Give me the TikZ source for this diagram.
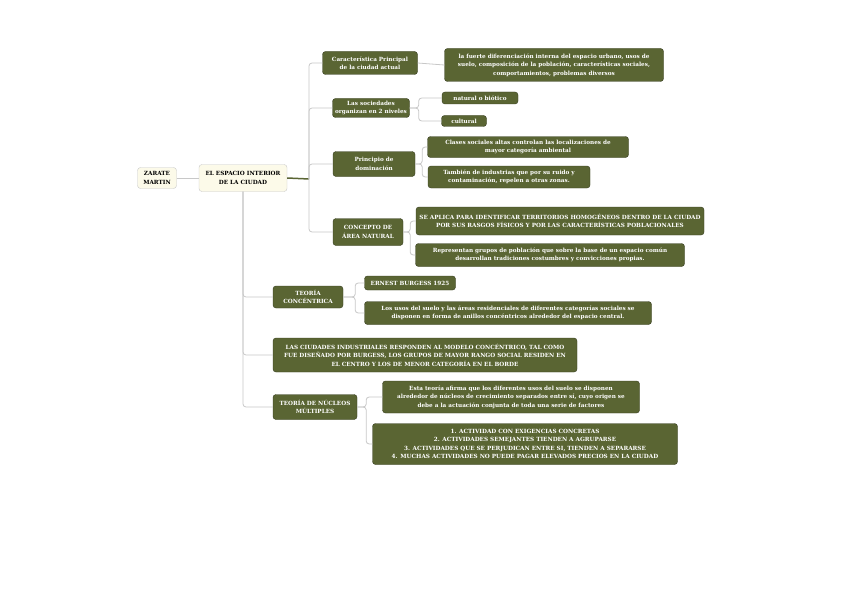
\documentclass[tikz,border=0pt]{standalone}
\usepackage{fontspec}
\setmainfont{DejaVu Serif}
\usetikzlibrary{positioning}
\definecolor{olive}{RGB}{90,101,51}
\definecolor{crema}{RGB}{252,250,233}
\definecolor{rama}{RGB}{200,200,200}

\begin{document}
\begin{tikzpicture}[x=1pt,y=-1pt,font=\fontsize{5.7}{8.4}\selectfont\bfseries,
  idea/.style={draw=olive!60!black,fill=olive,text=white,rounded corners=3pt,align=center,inner sep=1.5pt},
  raiz/.style={draw=rama,fill=crema,text=black,rounded corners=3pt,align=center,inner sep=1.5pt},
  link/.style={rama,line width=.8pt,rounded corners=3pt}]
\useasboundingbox (0,0) rectangle (848,599);
\fill[white] (0,0) rectangle (848,599);
% raiz del mapa
\node[raiz,minimum width=39,minimum height=21] (zar) at (157,178) {ZARATE\\MARTIN};
\node[raiz,minimum width=88,minimum height=27] (main) at (243,178) {EL ESPACIO INTERIOR\\DE LA CIUDAD};
% rama superior
\node[idea,minimum width=95,minimum height=23] (car) at (370,63) {Característica Principal\\de la ciudad actual};
\node[idea,minimum width=219,minimum height=33] (carT) at (554,65) {la fuerte diferenciación interna del espacio urbano, usos de\\suelo, composición de la población, características sociales,\\comportamientos, problemas diversos};
\node[idea,minimum width=77,minimum height=19] (soc) at (371,108) {Las sociedades\\organizan en 2 niveles};
\node[idea,minimum width=76,minimum height=12] (nat) at (480,98) {natural o biótico};
\node[idea,minimum width=45,minimum height=11] (cul) at (464,121) {cultural};
\node[idea,minimum width=82,minimum height=25] (pri) at (374,164) {Principio de\\dominación};
\node[idea,minimum width=201,minimum height=21] (cla) at (528,147) {Clases sociales altas controlan las localizaciones de\\mayor categoría ambiental};
\node[idea,minimum width=162,minimum height=22] (tam) at (509,177) {También de industrias que por su ruido y\\contaminación, repelen a otras zonas.};
\node[idea,minimum width=70,minimum height=27] (con) at (368,232) {CONCEPTO DE\\ÁREA NATURAL};
\node[idea,minimum width=288,minimum height=28] (sea) at (560,221) {SE APLICA PARA IDENTIFICAR TERRITORIOS HOMOGÉNEOS DENTRO DE LA CIUDAD\\POR SUS RASGOS FÍSICOS Y POR LAS CARACTERÍSTICAS POBLACIONALES};
\node[idea,minimum width=269,minimum height=23] (rep) at (550,255) {Representan grupos de población que sobre la base de un espacio común\\desarrollan tradiciones costumbres y convicciones propias.};
% rama inferior
\node[idea,minimum width=70,minimum height=22] (tc) at (308,297) {TEORÍA\\CONCÉNTRICA};
\node[idea,minimum width=91,minimum height=14] (ern) at (410,283) {ERNEST BURGESS 1925};
\node[idea,minimum width=287,minimum height=23] (usos) at (508,313) {Los usos del suelo y las áreas residenciales de diferentes categorías sociales se\\disponen en forma de anillos concéntricos alrededor del espacio central.};
\node[idea,minimum width=304,minimum height=34] (ciu) at (425,355) {LAS CIUDADES INDUSTRIALES RESPONDEN AL MODELO CONCÉNTRICO, TAL COMO\\FUE DISEÑADO POR BURGESS, LOS GRUPOS DE MAYOR RANGO SOCIAL RESIDEN EN\\EL CENTRO Y LOS DE MENOR CATEGORÍA EN EL BORDE};
\node[idea,minimum width=84,minimum height=25] (tn) at (315,407) {TEORÍA DE NÚCLEOS\\MÚLTIPLES};
\node[idea,minimum width=257,minimum height=32] (est) at (511,397) {Esta teoría afirma que los diferentes usos del suelo se disponen\\alrededor de núcleos de crecimiento separados entre sí, cuyo origen se\\debe a la actuación conjunta de toda una serie de factores};
\node[idea,minimum width=305,minimum height=41] (act) at (525,444) {1. ACTIVIDAD CON EXIGENCIAS CONCRETAS\\2. ACTIVIDADES SEMEJANTES TIENDEN A AGRUPARSE\\3. ACTIVIDADES QUE SE PERJUDICAN ENTRE SI, TIENDEN A SEPARARSE\\4. MUCHAS ACTIVIDADES NO PUEDE PAGAR ELEVADOS PRECIOS EN LA CIUDAD};
% conectores
\draw[link] (zar) -- (main);
\coordinate (j1) at (309,179);
\draw[olive,line width=1.5pt] (main.east) -- (j1);
\draw[link] (j1) |- (car.west);
\draw[link] (j1) |- (soc.west);
\draw[link] (j1) |- (pri.west);
\draw[link] (j1) |- (con.west);
\draw[link] (car.east) -- (carT.west);
\draw[link] (soc.east) -- ++(9,0) |- (nat.west);
\draw[link] (soc.east) -- ++(9,0) |- (cul.west);
\draw[link] (pri.east) -- ++(7,0) |- (cla.west);
\draw[link] (pri.east) -- ++(7,0) |- (tam.west);
\draw[link] (con.east) -- ++(7,0) |- (sea.west);
\draw[link] (con.east) -- ++(7,0) |- (rep.west);
\draw[link] (main.south) |- (tc.west);
\draw[link] (main.south) |- (ciu.west);
\draw[link] (main.south) |- (tn.west);
\draw[link] (tc.east) -- ++(12,0) |- (ern.west);
\draw[link] (tc.east) -- ++(12,0) |- (usos.west);
\draw[link] (tn.east) -- ++(9,0) |- (est.west);
\draw[link] (tn.east) -- ++(9,0) |- (act.west);
\end{tikzpicture}
\end{document}
